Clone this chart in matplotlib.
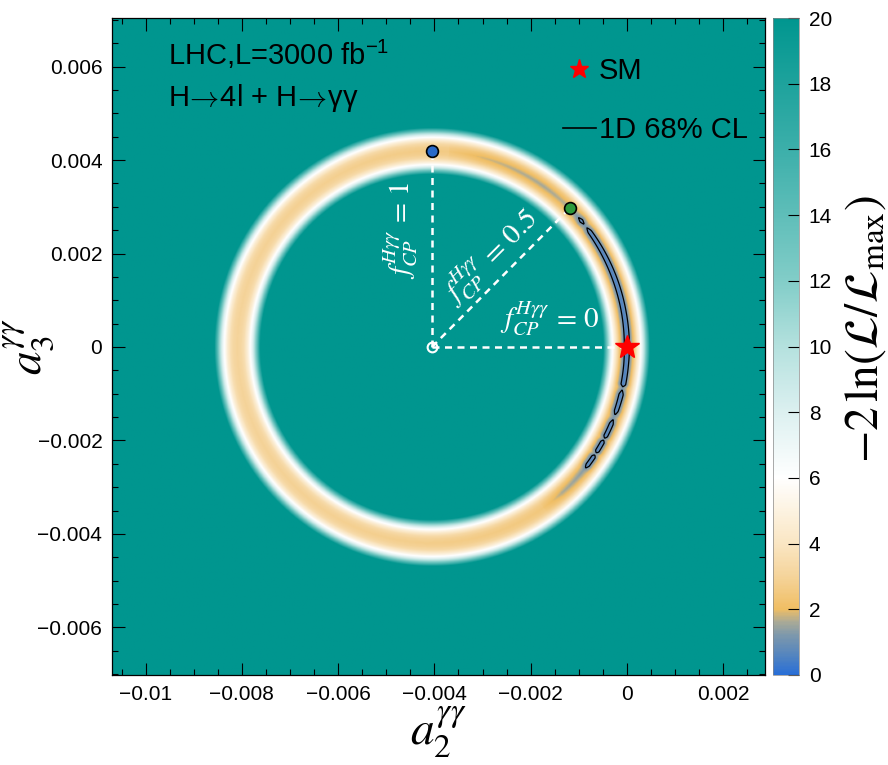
import numpy as np
import matplotlib
matplotlib.use("Agg")
import matplotlib.pyplot as plt
from matplotlib.colors import LinearSegmentedColormap
from matplotlib.lines import Line2D
from matplotlib.ticker import FixedLocator, FixedFormatter, MultipleLocator

plt.rcParams["font.family"] = ["Liberation Sans", "DejaVu Sans"]
plt.rcParams["mathtext.fontset"] = "custom"
plt.rcParams["mathtext.rm"] = "Liberation Sans"
plt.rcParams["mathtext.it"] = "Liberation Sans:italic"

# ---- scan geometry: ring of degenerate solutions in the (a2, a3) plane ----
ring_center_a2 = -0.00405
ring_radius_a2 = 0.00405
ring_radius_a3 = 0.0042

# broad ring: -2 ln(L/Lmax) along the ring vs polar angle (deg) around the ring centre
ring_angle_deg = [-180, -120, -90, -60, -45, 0, 45, 60, 90, 120, 180]
ring_floor = [3.0, 2.85, 2.7, 2.5, 2.3, 2.2, 2.3, 2.45, 2.6, 2.8, 3.0]

# narrow valley on the SM side of the ring: its minimum vs polar angle (deg)
valley_angle_deg = [-55, -48, -44, -39, -37, -34, -33, -32, -29, -28, -27, -23, -21,
                    -19, -14, -12, -11, -5, 0, 10, 20, 30, 36, 38, 40, 42, 44, 48,
                    55, 65, 75, 85]
valley_min = [2.3, 1.6, 1.5, 1.3, 0.6, 0.6, 1.2, 0.6, 0.6, 1.15, 0.6, 0.6, 1.2,
              0.6, 0.55, 1.2, 0.5, 0.5, 0.45, 0.5, 0.5, 0.55, 0.6, 1.15, 0.65, 1.2,
              1.45, 1.65, 1.55, 1.65, 1.85, 2.4]
valley_half_width = 0.055   # fraction of the ring radius

# rise of -2 ln(L/Lmax) with radial distance from the ring (fraction of radius)
radial_offset = [0.0, 0.02, 0.035, 0.05, 0.06, 0.07, 0.08, 0.095, 0.11, 0.125]
radial_rise = [0.0, 0.2, 0.6, 1.5, 2.4, 3.5, 5.2, 9.0, 14.0, 20.0]

# highlighted points
sm_point = (0.0, 0.0)
fcp_angles_deg = [0, 45, 90]          # fCP = 0, 0.5, 1
fcp_labels = [r"$f_{CP}^{H\gamma\gamma}\,=\,0$", r"$f_{CP}^{H\gamma\gamma}\,=\,0.5$",
              r"$f_{CP}^{H\gamma\gamma}\,=\,1$"]

# axes
x_range = (-0.0107, 0.00287)
y_range = (-0.00702, 0.00704)
x_ticks = [-0.01, -0.008, -0.006, -0.004, -0.002, 0.0, 0.002]
x_tick_labels = ["\u22120.01", "\u22120.008", "\u22120.006", "\u22120.004", "\u22120.002", "0", "0.002"]
y_ticks = [-0.006, -0.004, -0.002, 0.0, 0.002, 0.004, 0.006]
y_tick_labels = ["\u22120.006", "\u22120.004", "\u22120.002", "0", "0.002", "0.004", "0.006"]
z_ticks = [0, 2, 4, 6, 8, 10, 12, 14, 16, 18, 20]

# colour palette of the likelihood scale
cmap_pos = [0.0, 0.03, 0.06, 0.08, 0.1, 0.15, 0.2, 0.3, 0.4, 0.5, 0.6, 0.8, 1.0]
cmap_rgb = [(40, 110, 215), (85, 133, 190), (125, 152, 172), (170, 170, 150),
            (240, 190, 100), (245, 212, 155), (250, 230, 195), (255, 255, 255),
            (220, 240, 240), (180, 225, 222), (130, 205, 200), (60, 175, 170),
            (0, 150, 143)]
cmap = LinearSegmentedColormap.from_list(
    "nll", [(p, tuple(c / 255 for c in rgb)) for p, rgb in zip(cmap_pos, cmap_rgb)], N=512)

# ---- build the surface ----
a2 = np.linspace(*x_range, 800)
a3 = np.linspace(*y_range, 800)
A2, A3 = np.meshgrid(a2, a3)
u = (A2 - ring_center_a2) / ring_radius_a2
v = A3 / ring_radius_a3
rho = np.hypot(u, v)
theta = np.degrees(np.arctan2(v, u))
dist = np.abs(rho - 1.0)
floor = np.interp(theta, ring_angle_deg, ring_floor)
vmin_ang = np.interp(theta, valley_angle_deg, valley_min, left=99.0, right=99.0)
depth = np.clip(floor - vmin_ang, 0, None)
Z = floor + np.interp(dist, radial_offset, radial_rise, right=20.0) \
    - depth * np.clip(1.0 - dist / valley_half_width, 0, None)
Z = np.clip(Z, 0, 20)

fig = plt.figure(figsize=(8.88, 7.65), dpi=100)
ax = fig.add_axes([112 / 888, 90 / 765, 653 / 888, 657 / 765])
cax = fig.add_axes([773 / 888, 90 / 765, 26 / 888, 657 / 765])

im = ax.imshow(Z, extent=(*x_range, *y_range), origin="lower", cmap=cmap,
               vmin=0, vmax=20, aspect="auto", interpolation="bilinear")
ax.contour(A2, A3, Z, levels=[1.0], colors="k", linewidths=0.9)

# dashed rays from the ring centre
for ang in fcp_angles_deg:
    t = np.radians(ang)
    ax.plot([ring_center_a2, ring_center_a2 + ring_radius_a2 * np.cos(t)],
            [0.0, ring_radius_a3 * np.sin(t)], color="white", lw=1.8,
            ls=(0, (2.8, 2.2)), zorder=3)

ax.plot(ring_center_a2, 0.0, "o", ms=7, mfc="none", mec="white", mew=1.5, zorder=4)
t90, t45 = np.radians(90), np.radians(45)
ax.plot(ring_center_a2 + ring_radius_a2 * np.cos(t90), ring_radius_a3 * np.sin(t90), "o",
        ms=8.5, mfc="#2a6ac8", mec="black", mew=1.2, zorder=5)
ax.plot(ring_center_a2 + ring_radius_a2 * np.cos(t45), ring_radius_a3 * np.sin(t45), "o",
        ms=8.5, mfc="#2e9a3c", mec="black", mew=1.2, zorder=5)
ax.plot(*sm_point, "*", ms=18, color="red", mec="red", zorder=6)

# fCP labels along the rays
ax.text(-0.0016, 0.00062, fcp_labels[0], color="white", fontsize=21,
        math_fontfamily="stix", ha="center", va="center")
ax.text(-0.00285, 0.00195, fcp_labels[1], color="white", fontsize=21,
        math_fontfamily="stix", ha="center", va="center", rotation=45)
ax.text(-0.00472, 0.0025, fcp_labels[2], color="white", fontsize=21,
        math_fontfamily="stix", ha="center", va="center", rotation=90)

ax.text(0.0858, 0.928, r"LHC,L=3000 fb$^{-1}$", transform=ax.transAxes, fontsize=21,
        ha="left", va="baseline")
ax.text(0.0858, 0.866, r"H$\!\rightarrow\!$4l + H$\!\rightarrow\!$γγ", transform=ax.transAxes,
        fontsize=21, ha="left", va="baseline", math_fontfamily="cm")

handles = [Line2D([], [], marker="*", color="red", ls="none", ms=14),
           Line2D([], [], color="black", lw=1.2)]
ax.legend(handles, ["SM", "1D 68% CL"], loc="upper left", bbox_to_anchor=(0.69, 0.94),
          frameon=False, fontsize=21, handlelength=1.15, handletextpad=0.1,
          borderpad=0, borderaxespad=0, labelspacing=1.05)

ax.set_xlim(*x_range)
ax.set_ylim(*y_range)
ax.xaxis.set_major_locator(FixedLocator(x_ticks))
ax.xaxis.set_major_formatter(FixedFormatter(x_tick_labels))
ax.yaxis.set_major_locator(FixedLocator(y_ticks))
ax.yaxis.set_major_formatter(FixedFormatter(y_tick_labels))
ax.xaxis.set_minor_locator(MultipleLocator(0.0005))
ax.yaxis.set_minor_locator(MultipleLocator(0.0005))
ax.tick_params(which="both", direction="in", top=True, right=True, width=0.8,
               labelsize=15)
ax.tick_params(which="major", length=9, pad=7)
ax.tick_params(which="minor", length=4.5)
for s in ax.spines.values():
    s.set_linewidth(0.9)

ax.set_xlabel(r"$a_{2}^{\gamma\gamma}$", fontsize=34, math_fontfamily="stix")
ax.xaxis.set_label_coords(0.5, -0.045)
ax.set_ylabel(r"$a_{3}^{\gamma\gamma}$", fontsize=34, math_fontfamily="stix")
ax.yaxis.set_label_coords(-0.085, 0.5)

cb = fig.colorbar(im, cax=cax, ticks=z_ticks)
cb.outline.set_linewidth(0.5)
cb.outline.set_edgecolor("#888888")
cax.tick_params(direction="in", length=8, width=0.8, labelsize=15, pad=7)
cax.minorticks_off()
fig.text(866 / 888, 0.57, r"$-2\,\ln(\mathcal{L}/\mathcal{L}_{\rm max})$", rotation=90,
         fontsize=34, math_fontfamily="stix", ha="center", va="center")

fig.savefig("out.png", dpi=100)
